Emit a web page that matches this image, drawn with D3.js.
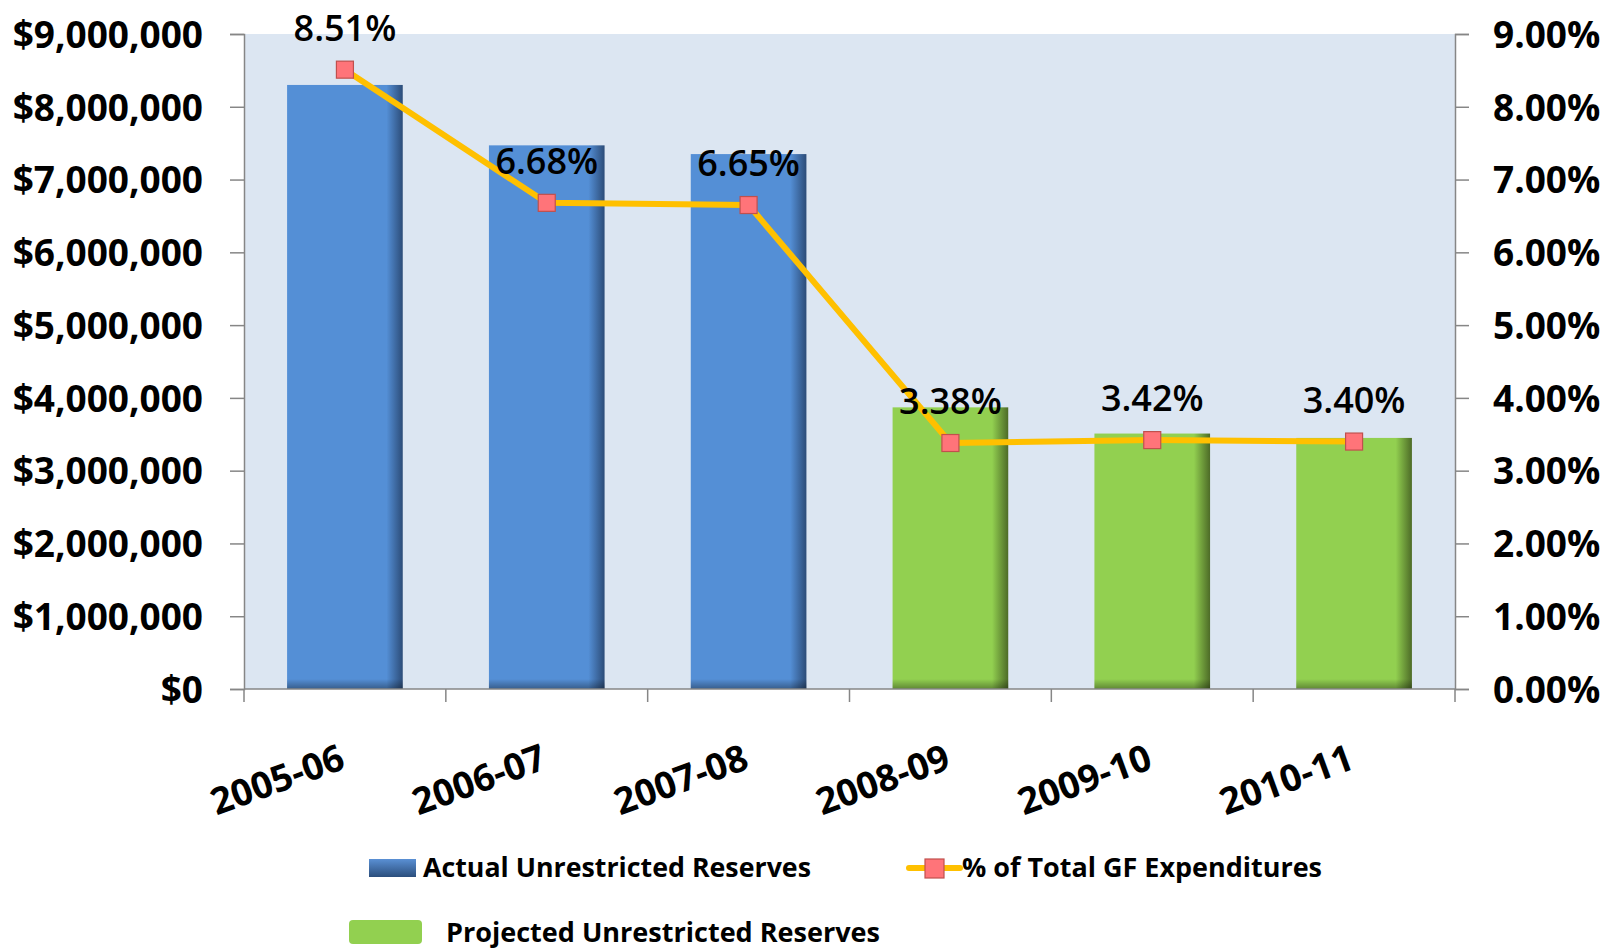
<!DOCTYPE html>
<html>
<head>
<meta charset="utf-8">
<script src="https://cdn.jsdelivr.net/npm/d3@7"></script>
<style>
  body { margin: 0; background: #fff; }
  svg text { font-family: "Open Sans", sans-serif; fill: #000; }
</style>
</head>
<body>
<div id="chart"></div>
<script>
// Data
const years = ["2005-06", "2006-07", "2007-08", "2008-09", "2009-10", "2010-11"];
const actualReserves = [8300000, 7470000, 7350000, null, null, null];
const projectedReserves = [null, null, null, 3870000, 3510000, 3450000];
const pctOfExpenditures = [0.0851, 0.0668, 0.0665, 0.0338, 0.0342, 0.0340];
const dollarTicks = [0, 1000000, 2000000, 3000000, 4000000, 5000000, 6000000, 7000000, 8000000, 9000000];
const pctTicks = [0, 0.01, 0.02, 0.03, 0.04, 0.05, 0.06, 0.07, 0.08, 0.09];

// Plot area
const margin = {top: 34, right: 151, bottom: 260, left: 244},
      W = 1606, H = 949,
      width = W - margin.left - margin.right,
      height = H - margin.top - margin.bottom;

const svg = d3.select("#chart")
    .append("svg")
    .attr("width", W)
    .attr("height", H);

const defs = svg.append("defs");

// side shading on bars, like the Excel bevel
function sideGradient(id, main, dark) {
    const g = defs.append("linearGradient").attr("id", id)
        .attr("x1", 0).attr("x2", 1).attr("y1", 0).attr("y2", 0);
    g.append("stop").attr("offset", "0%").attr("stop-color", main);
    g.append("stop").attr("offset", "86%").attr("stop-color", main);
    g.append("stop").attr("offset", "100%").attr("stop-color", dark);
}
sideGradient("blueSide", "#548fd6", "#2c4c78");
sideGradient("greenSide", "#92d050", "#4d6b27");

const bottomShade = defs.append("linearGradient").attr("id", "bottomShade")
    .attr("x1", 0).attr("x2", 0).attr("y1", 0).attr("y2", 1);
bottomShade.append("stop").attr("offset", "0%").attr("stop-color", "#000").attr("stop-opacity", 0);
bottomShade.append("stop").attr("offset", "100%").attr("stop-color", "#000").attr("stop-opacity", 0.35);

const legendBlue = defs.append("linearGradient").attr("id", "legendBlue")
    .attr("x1", 0).attr("x2", 0).attr("y1", 0).attr("y2", 1);
legendBlue.append("stop").attr("offset", "0%").attr("stop-color", "#5a90d4");
legendBlue.append("stop").attr("offset", "100%").attr("stop-color", "#2b4e7c");

const g = svg.append("g")
    .attr("transform", `translate(${margin.left},${margin.top})`);

// Scales
const x = d3.scaleBand()
    .domain(years)
    .range([0, width])
    .paddingInner(0.427)
    .paddingOuter(0.2135);

const band = width / years.length;

const y = d3.scaleLinear()
    .domain([0, 9000000])
    .range([height, 0]);

const y2 = d3.scaleLinear()
    .domain([0, 0.09])
    .range([height, 0]);

// Plot background
g.append("rect")
    .attr("width", width)
    .attr("height", height)
    .attr("fill", "#dce6f2");

// Bars
function drawBars(values, fillId) {
    const rows = years.map((d, i) => ({year: d, v: values[i]})).filter(d => d.v != null);
    const bars = g.selectAll(null)
        .data(rows)
        .enter()
        .append("g");
    bars.append("rect")
        .attr("x", d => x(d.year))
        .attr("y", d => y(d.v))
        .attr("width", x.bandwidth())
        .attr("height", d => height - y(d.v))
        .attr("fill", `url(#${fillId})`);
    bars.append("rect")
        .attr("x", d => x(d.year))
        .attr("y", height - 10)
        .attr("width", x.bandwidth())
        .attr("height", 10)
        .attr("fill", "url(#bottomShade)");
}
drawBars(actualReserves, "blueSide");
drawBars(projectedReserves, "greenSide");

// Axes
const axisColor = "#868686";

const leftAxis = g.append("g")
    .call(d3.axisLeft(y).tickValues(dollarTicks).tickFormat(d3.format("$,")).tickSize(14).tickPadding(27));

const rightAxis = g.append("g")
    .attr("transform", `translate(${width},0)`)
    .call(d3.axisRight(y2).tickValues(pctTicks).tickFormat(d3.format(".2%")).tickSize(14).tickPadding(24));

[leftAxis, rightAxis].forEach(a => {
    a.select(".domain").attr("stroke", axisColor).attr("stroke-width", 1.5);
    a.selectAll(".tick line").attr("stroke", axisColor).attr("stroke-width", 1.5);
    a.selectAll(".tick text")
        .attr("dy", "0.36em")
        .style("font-size", "37px")
        .style("font-weight", "bold")
        .attr("fill", "#000");
});

// bottom axis line and band ticks
g.append("line")
    .attr("x1", 0).attr("x2", width)
    .attr("y1", height).attr("y2", height)
    .attr("stroke", axisColor).attr("stroke-width", 1.5);

g.selectAll("line.band-tick")
    .data(d3.range(years.length + 1))
    .enter()
    .append("line")
    .attr("class", "band-tick")
    .attr("x1", i => i * band).attr("x2", i => i * band)
    .attr("y1", height).attr("y2", height + 13)
    .attr("stroke", axisColor).attr("stroke-width", 1.5);

// rotated category labels
g.selectAll("text.year")
    .data(years)
    .enter()
    .append("text")
    .attr("class", "year")
    .attr("transform", d => `translate(${x(d) + x.bandwidth() / 2 + 2},${height + 79}) rotate(-20)`)
    .attr("text-anchor", "end")
    .style("font-size", "37px")
    .style("font-weight", "bold")
    .text(d => d);

// Line series
const pts = years.map((d, i) => ({year: d, v: pctOfExpenditures[i]}));
const cx = d => x(d.year) + x.bandwidth() / 2;

g.append("path")
    .datum(pts)
    .attr("d", d3.line().x(cx).y(d => y2(d.v)))
    .attr("fill", "none")
    .attr("stroke", "#ffc000")
    .attr("stroke-width", 6)
    .attr("stroke-linejoin", "round");

g.selectAll("rect.marker")
    .data(pts)
    .enter()
    .append("rect")
    .attr("class", "marker")
    .attr("x", d => cx(d) - 8.5)
    .attr("y", d => y2(d.v) - 8.5)
    .attr("width", 17)
    .attr("height", 17)
    .attr("fill", "#ff7479")
    .attr("stroke", "#c0504d")
    .attr("stroke-width", 1.2);

g.selectAll("text.pct")
    .data(pts)
    .enter()
    .append("text")
    .attr("class", "pct")
    .attr("x", cx)
    .attr("y", d => y2(d.v) - 29)
    .attr("text-anchor", "middle")
    .style("font-size", "36px")
    .style("font-weight", 600)
    .text(d => d3.format(".2%")(d.v));

// Legend
const legend = svg.append("g");

legend.append("rect")
    .attr("x", 369).attr("y", 859)
    .attr("width", 47).attr("height", 18)
    .attr("fill", "url(#legendBlue)");
legend.append("text")
    .attr("x", 423).attr("y", 877)
    .attr("textLength", 388).attr("lengthAdjust", "spacingAndGlyphs")
    .style("font-size", "26px").style("font-weight", "bold")
    .text("Actual Unrestricted Reserves");

legend.append("line")
    .attr("x1", 909).attr("x2", 960)
    .attr("y1", 868).attr("y2", 868)
    .attr("stroke", "#ffc000").attr("stroke-width", 6).attr("stroke-linecap", "round");
legend.append("rect")
    .attr("x", 925).attr("y", 859)
    .attr("width", 19).attr("height", 19)
    .attr("fill", "#ff7479").attr("stroke", "#c0504d").attr("stroke-width", 1.2);
legend.append("text")
    .attr("x", 962).attr("y", 877)
    .attr("textLength", 360).attr("lengthAdjust", "spacingAndGlyphs")
    .style("font-size", "26px").style("font-weight", "bold")
    .text("% of Total GF Expenditures");

legend.append("rect")
    .attr("x", 349).attr("y", 920)
    .attr("width", 73).attr("height", 24)
    .attr("rx", 4)
    .attr("fill", "#92d050");
legend.append("text")
    .attr("x", 446).attr("y", 942)
    .attr("textLength", 434).attr("lengthAdjust", "spacingAndGlyphs")
    .style("font-size", "26px").style("font-weight", "bold")
    .text("Projected Unrestricted Reserves");
</script>
</body>
</html>
